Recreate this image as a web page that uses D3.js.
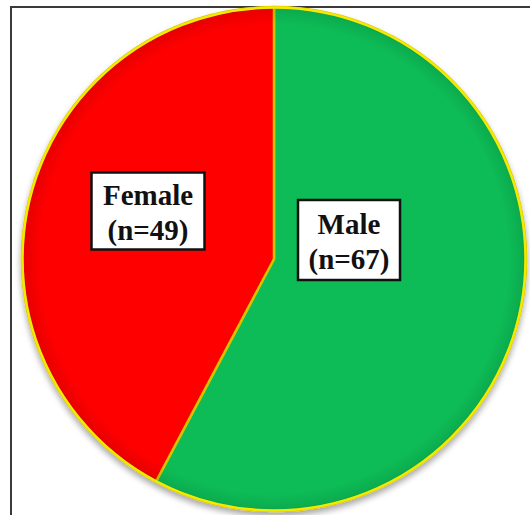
<!DOCTYPE html>
<html>
<head>
<meta charset="utf-8">
<script src="https://cdn.jsdelivr.net/npm/d3@7"></script>
<style>
  html, body { margin: 0; padding: 0; background: #fff; }
  svg { display: block; }
</style>
</head>
<body>
<script>
// Gender split of participants
const categories = ["Male", "Female"];
const counts = [67, 49];
const sliceColors = ["#0BBC57", "#FE0000"];

const W = 530, H = 515;
const cx = 274, cy = 259, R = 252;

// label box centres relative to pie centre
const labelLayout = {
  Male:   { dx: 75,  dy: -19, w: 102, h: 80 },
  Female: { dx: -126, dy: -48, w: 113, h: 77 }
};

const svg = d3.select("body").append("svg")
  .attr("width", W).attr("height", H);

const defs = svg.append("defs");

const shadow = defs.append("filter").attr("id", "pieShadow")
  .attr("x", "-10%").attr("y", "-10%").attr("width", "120%").attr("height", "120%");
shadow.append("feGaussianBlur").attr("in", "SourceAlpha").attr("stdDeviation", 3).attr("result", "b");
shadow.append("feOffset").attr("in", "b").attr("dx", 0).attr("dy", 4).attr("result", "o");
shadow.append("feComponentTransfer").attr("in", "o").attr("result", "s")
  .append("feFuncA").attr("type", "linear").attr("slope", 0.35);
const merge = shadow.append("feMerge");
merge.append("feMergeNode").attr("in", "s");
merge.append("feMergeNode").attr("in", "SourceGraphic");

// soft bevel near the rim
const bevel = defs.append("radialGradient").attr("id", "rimBevel")
  .attr("cx", "50%").attr("cy", "50%").attr("r", "50%");
bevel.append("stop").attr("offset", "0.93").attr("stop-color", "#000").attr("stop-opacity", 0);
bevel.append("stop").attr("offset", "0.985").attr("stop-color", "#000").attr("stop-opacity", 0.08);
bevel.append("stop").attr("offset", "1").attr("stop-color", "#000").attr("stop-opacity", 0.15);

// outer frame
svg.append("rect")
  .attr("x", 11).attr("y", 7)
  .attr("width", W + 20).attr("height", H + 20)
  .attr("fill", "none").attr("stroke", "#3a3a3a").attr("stroke-width", 2);

const data = categories.map((c, i) => ({ name: c, value: counts[i], color: sliceColors[i] }));

const pie = d3.pie().value(d => d.value).sort(null);
const arc = d3.arc().innerRadius(0).outerRadius(R);
const arcs = pie(data);

const g = svg.append("g").attr("transform", `translate(${cx},${cy})`);

const slices = g.append("g").attr("filter", "url(#pieShadow)");
slices.selectAll("path.slice")
  .data(arcs)
  .join("path")
  .attr("class", "slice")
  .attr("d", arc)
  .attr("fill", d => d.data.color)
  .attr("stroke", "#D9C000")
  .attr("stroke-width", 2.5)
  .attr("stroke-linejoin", "round");

g.append("circle").attr("r", R).attr("fill", "url(#rimBevel)");
g.append("circle").attr("r", R - 0.5)
  .attr("fill", "none").attr("stroke", "#F2EA00").attr("stroke-width", 2.5);

// labels
const labels = g.selectAll("g.label")
  .data(arcs)
  .join("g")
  .attr("class", "label")
  .attr("transform", d => {
    const L = labelLayout[d.data.name];
    return `translate(${L.dx},${L.dy})`;
  });

labels.append("rect")
  .attr("x", d => -labelLayout[d.data.name].w / 2)
  .attr("y", d => -labelLayout[d.data.name].h / 2)
  .attr("width", d => labelLayout[d.data.name].w)
  .attr("height", d => labelLayout[d.data.name].h)
  .attr("fill", "#fff").attr("stroke", "#111").attr("stroke-width", 2.5);

labels.append("text")
  .attr("text-anchor", "middle")
  .attr("font-family", "'Liberation Serif', 'Times New Roman', serif")
  .attr("font-weight", "bold")
  .attr("font-size", 29)
  .attr("fill", "#111")
  .selectAll("tspan")
  .data(d => [d.data.name, `(n=${d.data.value})`])
  .join("tspan")
  .attr("x", 0)
  .attr("y", (t, i) => i === 0 ? -6 : 29)
  .text(t => t);
</script>
</body>
</html>
